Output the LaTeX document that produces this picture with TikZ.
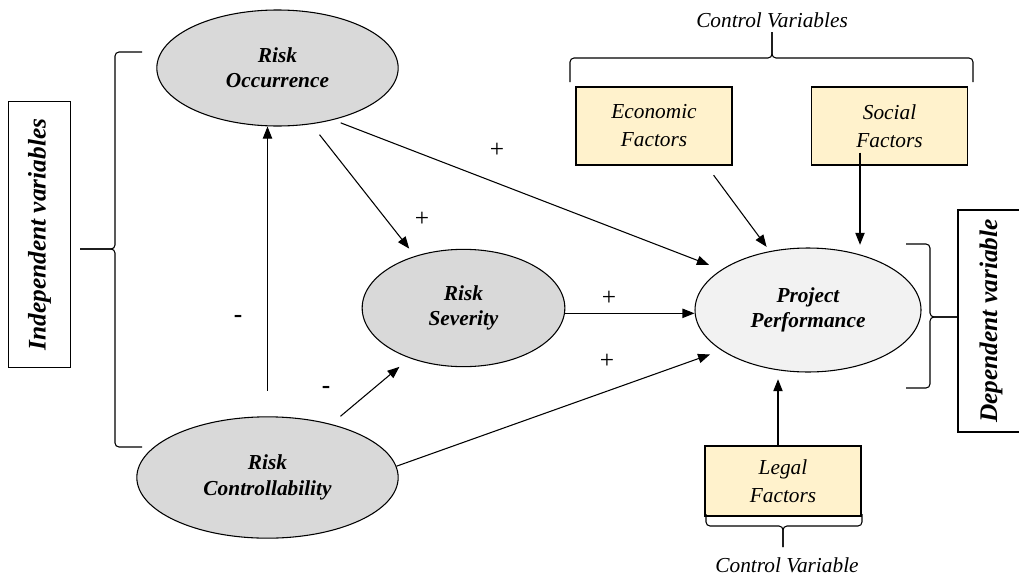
\documentclass[tikz,border=0pt]{standalone}
\usepackage{fontspec}
\setmainfont{Liberation Serif}
\usetikzlibrary{shapes.geometric,arrows.meta,calc}
\definecolor{latentgray}{HTML}{D9D9D9}
\definecolor{perfgray}{HTML}{F2F2F2}
\definecolor{factorfill}{HTML}{FFF2CC}
\tikzset{
    latent/.style={ellipse, draw, line width=0.8pt, fill=latentgray, inner sep=0pt,
      align=center, font=\fontsize{16}{19}\selectfont\bfseries\itshape},
    factor/.style={rectangle, draw, line width=0.8pt, fill=factorfill, inner sep=0pt,
      minimum width=117pt, align=center, font=\fontsize{16}{21}\selectfont\itshape},
    sidebox/.style={draw, line width=0.8pt, rotate=90, inner sep=0pt,
      font=\fontsize{19}{22}\selectfont\bfseries\itshape},
    arr/.style={-{Triangle[length=9pt,width=7pt]}, line width=0.8pt},
    sign/.style={font=\fontsize{19}{22}\selectfont},
    curly/.style={line width=0.8pt, rounded corners=3pt},
    ctrl/.style={font=\fontsize{16}{19}\selectfont\itshape},
  }
\begin{document}
\begin{tikzpicture}[x=0.75pt,y=-0.75pt]
    %units: one pixel of the 1019x578 frame, y going down
    \useasboundingbox (0,0) rectangle (1019,578);
    %latent variables
    \node[latent, minimum width=181pt, minimum height=87pt] (RO) at (277.5,68) {Risk\\Occurrence};
    \node[latent, minimum width=152pt, minimum height=88pt] (RS) at (463.5,308) {Risk\\Severity};
    \node[latent, minimum width=196pt, minimum height=91pt] (RC) at (267.5,477.5) {Risk\\Controllability};
    \node[latent, fill=perfgray, minimum width=169.5pt, minimum height=93pt] (PP) at (808,310) {Project\\Performance};
    %control factors
    \node[factor, minimum height=58.5pt] (EF) at (654,126) {Economic\\Factors};
    \node[factor, minimum height=58.5pt] (SF) at (889.5,126) {Social\\Factors};
    \node[factor, minimum height=52.5pt] (LF) at (783,481) {Legal\\Factors};
    %side labels
    \node[sidebox, minimum width=199pt, minimum height=47pt] (IV) at (39.5,234.5) {Independent variables};
    \node[sidebox, minimum width=166.5pt, minimum height=49.5pt] (DV) at (991,321) {Dependent variable};
    \node[ctrl] (CVS) at (772,20) {Control Variables};
    \node[ctrl] (CV) at (787,565) {Control Variable};
    %braces
    \draw[curly] (142,52) -- (115,52) -- (115,249) -- (80,249);
    \draw[curly] (80,249) -- (115,249) -- (115,447) -- (142,447);
    \draw[curly] (906,244) -- (930,244) -- (930,317) -- (DV.north |- 0,317);
    \draw[curly] (DV.north |- 0,317) -- (930,317) -- (930,388) -- (906,388);
    \draw[curly] (570,82) -- (570,58) -- (772,58) -- (772,32);
    \draw[curly] (772,32) -- (772,58) -- (973,58) -- (973,82);
    \draw[curly] (706,514) -- (706,526) -- (783,526) -- (783,547);
    \draw[curly] (783,547) -- (783,526) -- (862,526) -- (862,514);
    %paths between variables
    \draw[arr, shorten <=19pt] (RC.north) -- (RC.north |- RO.south);
    \draw[arr, shorten <=10pt, shorten >=7pt] (RO.-59) -- (RS.133.5);
    \draw[arr, shorten <=6pt, shorten >=10pt] (RO.-43) -- (PP.155);
    \draw[arr] (RS.-3.4) -- (RS.-3.4 -| PP.west);
    \draw[arr, shorten <=9pt, shorten >=10pt] (RC.40) -- (RS.223);
    \draw[arr, shorten >=9pt] (RC.5) -- (PP.205.6);
    %paths from control factors
    \draw[arr, shorten <=9pt, shorten >=4pt] (EF.-37) -- (PP.123);
    \path (SF.south) ++(-29.5,-13) coordinate (sfout);
    \draw[arr, shorten >=2pt] (sfout) -- (sfout |- PP.north);
    \path (LF.north) ++(-5,0) coordinate (lfout);
    \draw[arr, shorten >=5pt] (lfout) -- (lfout |- PP.south);
    %signs
    \node[sign] (s1) at (238,319) {\bfseries -};
    \node[sign] (s2) at (326,390) {\bfseries -};
    \node[sign] (s3) at (422,219) {+};
    \node[sign] (s4) at (497,150) {+};
    \node[sign] (s5) at (609,298) {+};
    \node[sign] (s6) at (607,361) {+};
\end{tikzpicture}
\end{document}
